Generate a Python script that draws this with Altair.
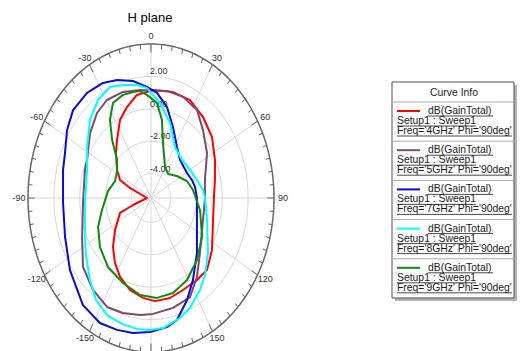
import altair as alt
import numpy as np
import pandas as pd

FONT = "Liberation Sans"

# Radial scale of the polar grid: gain at the centre and on the outer ring (dB)
R_MIN, R_MAX = -5.5, 4.0
ring_values = [-4, -2, 0, 2]
ring_labels = ["-4.00", "-2.00", "0.00", "2.00"]
angle_marks = [-150, -120, -90, -60, -30, 0, 30, 60, 90, 120, 150]

freqs = ["4GHz", "5GHz", "7GHz", "8GHz", "9GHz"]
colors = ["#ff0000", "#7b4a6e", "#0a0ad8", "#00ffff", "#108a10"]

# dB(GainTotal), Phi = 90deg cut. theta in degrees, 0 at the top, clockwise positive.
theta_4ghz = [-174.3, -164, -153.8, -145.2, -135.8, -125.4, -111, -107.3, -90, -69.2,
              -65.1, -56.6, -44.3, -36.2, -26.5, -18.3, -9.7, 1.3, 14.6, 26.5, 38.8,
              51.4, 64.6, 77.3, 90, 105.8, 124.3, 135.8, 144.9, 156.5, 166.6, 177.2]
gain_4ghz = [0.69, 0.40, -0.08, -0.62, -1.29, -2.09, -2.94, -4.05, -5.19, -3.76,
             -2.86, -2.36, -1.62, -1.06, -0.13, 0.41, 0.95, 1.16, 1.25, 1.25, 0.91,
             0.53, -0.03, -0.44, -0.64, -0.52, 0.20, 0.70, 0.68, 0.69, 0.84, 0.87]

theta_5ghz = [-173.3, -163, -153.2, -141.7, -129, -114.3, -93.3, -71.3, -64.6, -49.6,
              -38.5, -29.4, -18.3, -7.2, 10.6, 21.6, 33.2, 43.7, 57.3, 75.1, 90,
              108.7, 131.9, 143.9, 153.8, 165.9, 178.8]
gain_5ghz = [1.77, 1.92, 2.03, 1.73, 1.26, 0.34, -0.24, -0.11, -0.03, 0.68,
             1.20, 1.44, 1.39, 1.22, 1.22, 1.21, 0.99, 0.31, -0.36, -1.19, -1.33,
             -1.26, -0.42, 0.53, 1.31, 1.49, 1.65]

theta_7ghz = [-179.5, -170.5, -162.1, -152.9, -141.5, -125.4, -109.9, -92.6, -75.7, -67.3,
              -57.1, -48, -37.3, -27.6, -19.8, -10.9, -2.6, 4.1, 12.4, 21.2, 32.5,
              43.7, 61, 70.6, 78.8, 90, 110.9, 133.7, 147.3, 156.1, 165.1, 171.2]
gain_7ghz = [2.77, 2.95, 3.05, 3.16, 2.94, 2.18, 1.56, 1.30, 1.51, 1.70,
             2.22, 2.60, 2.65, 2.51, 2.23, 1.85, 1.36, 1.00, 0.25, -0.80, -1.77,
             -2.25, -2.32, -2.15, -2.03, -1.95, -1.70, -0.59, 0.50, 1.38, 2.29, 2.56]

theta_8ghz = [-179.5, -172.4, -163.9, -154.8, -146, -137, -125, -115.2, -93.4, -70.7,
              -57.5, -44.4, -34.1, -24.8, -17.2, -8.8, -2.6, 6.8, 17.6, 30.5, 45.6,
              60.1, 72.6, 83, 90, 107.4, 127.6, 138.7, 146.3, 156.1, 163.1, 173.4]
gain_8ghz = [2.64, 2.65, 2.58, 2.48, 2.09, 1.42, 0.63, 0.14, -0.39, -0.27,
             0.35, 1.24, 1.80, 2.04, 1.80, 1.56, 1.29, 0.40, -0.65, -1.85, -2.15,
             -2.02, -1.78, -1.45, -1.33, -0.97, 0.06, 0.82, 1.32, 1.92, 2.23, 2.58]

theta_9ghz = [-172, -157.6, -142, -127.5, -113.6, -101.1, -82.7, -69.4, -58.5, -48.2,
              -40, -33.4, -26.6, -18.8, -12, -7.3, -2.8, 4.5, 10, 15.3, 20.8, 29.6,
              41.5, 55.9, 69.4, 81.3, 101.1, 121.4, 137.1, 151.2, 163.8, 175.7]
gain_9ghz = [0.54, 0.17, -0.10, -0.53, -1.04, -1.64, -2.15, -2.53, -2.42, -1.99,
             -0.83, 0.26, 1.06, 1.22, 1.19, 1.15, 0.87, 0.38, -0.62, -1.99, -2.67, -3.31,
             -3.52, -3.08, -2.53, -2.22, -1.64, -0.88, -0.28, 0.27, 0.60, 0.68]

thetas = [theta_4ghz, theta_5ghz, theta_7ghz, theta_8ghz, theta_9ghz]
gains = [gain_4ghz, gain_5ghz, gain_7ghz, gain_8ghz, gain_9ghz]

# ---- view geometry (pixels) ----
CANVAS_W, CANVAS_H = 521, 351
W, H = 246, 307            # plot area; the ellipse is cut at the bottom edge
PAD_L, PAD_T = 28, 44
RX, RY = W / 2, 154.0      # semi-axes of the outer ring
Y_LOW = -(H - RY) / RY


def to_x(px):
    """absolute pixel x -> data units of the polar frame"""
    return (px - PAD_L - RX) / RX


def to_y(py):
    """absolute pixel y -> data units of the polar frame"""
    return (PAD_T + RY - py) / RY


sx = alt.Scale(domain=[-1, 1], nice=False, zero=False)
sy = alt.Scale(domain=[Y_LOW, 1], nice=False, zero=False)


def X(field):
    return alt.X(field, type="quantitative", scale=sx, axis=None)


def Y(field):
    return alt.Y(field, type="quantitative", scale=sy, axis=None)


SIN = "sin(datum.theta*PI/180)"
COS = "cos(datum.theta*PI/180)"
RN = f"(datum.gain-({R_MIN}))/({R_MAX - R_MIN})"

# ---- grid ----
ring_rows = []
for v in ring_values + [R_MAX]:
    for a in np.arange(0, 361, 2):
        ring_rows.append({"ring": v, "theta": float(a), "gain": v})
ring_df = pd.DataFrame(ring_rows)

rings = (
    alt.Chart(ring_df[ring_df.ring < R_MAX])
    .transform_calculate(rn=RN)
    .transform_calculate(px=f"datum.rn*{SIN}", py=f"datum.rn*{COS}")
    .mark_line(color="#d6d6d6", strokeWidth=1)
    .encode(x=X("px"), y=Y("py"), detail="ring:N", order="theta:Q")
)

outer = (
    alt.Chart(ring_df[ring_df.ring == R_MAX])
    .transform_calculate(rn=RN)
    .transform_calculate(px=f"datum.rn*{SIN}", py=f"datum.rn*{COS}")
    .mark_line(color="#676767", strokeWidth=1.5)
    .encode(x=X("px"), y=Y("py"), order="theta:Q")
)

spoke_df = pd.DataFrame({"theta": list(range(0, 360, 30))})
spokes = (
    alt.Chart(spoke_df)
    .transform_calculate(x0="0", y0="0", px=SIN, py=COS)
    .mark_rule(color="#d6d6d6", strokeWidth=1)
    .encode(x=X("x0"), y=Y("y0"), x2="px:Q", y2="py:Q")
)

tick_df = pd.DataFrame({"theta": list(range(0, 360, 5))})
tick_df["r_in"] = np.where(tick_df.theta % 30 == 0, 0.945, 0.968)
ticks = (
    alt.Chart(tick_df)
    .transform_calculate(
        x1=f"datum.r_in*{SIN}", y1=f"datum.r_in*{COS}", px=SIN, py=COS
    )
    .mark_rule(color="#676767", strokeWidth=1)
    .encode(x=X("x1"), y=Y("y1"), x2="px:Q", y2="py:Q")
)

angle_df = pd.DataFrame({"theta": angle_marks, "label": [str(a) for a in angle_marks]})
angle_text = (
    alt.Chart(angle_df)
    .transform_calculate(
        px=f"{SIN}*{1 + 9 / RX}", py=f"{COS}*{1 + 8 / RY}"
    )
    .mark_text(font=FONT, fontSize=9, color="#333333", align="center", baseline="middle")
    .encode(x=X("px"), y=Y("py"), text="label:N")
)

rlabel_df = pd.DataFrame({"gain": ring_values, "label": ring_labels, "theta": 0})
radial_text = (
    alt.Chart(rlabel_df)
    .transform_calculate(rn=RN)
    .transform_calculate(px="0", py="datum.rn")
    .mark_text(font=FONT, fontSize=9, color="#333333", align="left", baseline="bottom", dx=-1)
    .encode(x=X("px"), y=Y("py"), text="label:N")
)

# ---- gain curves ----
rows = []
for f, th, g in zip(freqs, thetas, gains):
    for i, (t, v) in enumerate(zip(th, g)):
        rows.append({"freq": f, "theta": t, "gain": v, "order": i})
    rows.append({"freq": f, "theta": th[0], "gain": g[0], "order": len(th)})  # close the loop
curve_df = pd.DataFrame(rows)

color_scale = alt.Scale(domain=freqs, range=colors)
curves = (
    alt.Chart(curve_df)
    .transform_calculate(rn=RN)
    .transform_calculate(px=f"datum.rn*{SIN}", py=f"datum.rn*{COS}")
    .mark_line(strokeWidth=2, strokeJoin="round")
    .encode(
        x=X("px"),
        y=Y("py"),
        color=alt.Color("freq:N", scale=color_scale, legend=None),
        order="order:Q",
    )
)

# ---- title ----
title_df = pd.DataFrame({"px": [to_x(150)], "py": [to_y(18)], "label": ["H plane"]})
title = (
    alt.Chart(title_df)
    .mark_text(font=FONT, fontSize=13, color="#000000", align="center", baseline="middle")
    .encode(x=X("px"), y=Y("py"), text="label:N")
)

# ---- "Curve Info" box ----
BOX_L, BOX_R, BOX_T, BOX_B = 392, 514, 82, 298
ROW0, ROW_STEP = 111, 39.2
LFS = 10.4

box_df = pd.DataFrame({
    "x1": [to_x(BOX_L + 3), to_x(BOX_L)],
    "x2": [to_x(BOX_R + 3), to_x(BOX_R)],
    "y1": [to_y(BOX_T + 3), to_y(BOX_T)],
    "y2": [to_y(BOX_B + 3), to_y(BOX_B)],
    "part": ["shadow", "frame"],
})
shadow = (
    alt.Chart(box_df[box_df.part == "shadow"])
    .mark_rect(fill="#b4b4b4")
    .encode(x=X("x1"), x2="x2:Q", y=Y("y1"), y2="y2:Q")
)
frame = (
    alt.Chart(box_df[box_df.part == "frame"])
    .mark_rect(fill="#ffffff", stroke="#505050", strokeWidth=1)
    .encode(x=X("x1"), x2="x2:Q", y=Y("y1"), y2="y2:Q")
)

header_df = pd.DataFrame({"px": [to_x(454)], "py": [to_y(93)], "label": ["Curve Info"]})
header = (
    alt.Chart(header_df)
    .mark_text(font=FONT, fontSize=LFS, color="#1a1a1a", align="center", baseline="middle")
    .encode(x=X("px"), y=Y("py"), text="label:N")
)

k = np.arange(len(freqs))
sep_df = pd.DataFrame({
    "x1": to_x(BOX_L + 1), "x2": to_x(BOX_R - 1),
    "py": to_y(102 + ROW_STEP * k),
})
separators = (
    alt.Chart(sep_df)
    .mark_rule(color="#a8a8a8", strokeWidth=1)
    .encode(x=X("x1"), x2="x2:Q", y=Y("py"))
)

row_y = ROW0 + ROW_STEP * k
entry_df = pd.DataFrame({
    "freq": freqs,
    "line_y": to_y(row_y),
    "sx1": to_x(397), "sx2": to_x(420),
})
samples = (
    alt.Chart(entry_df)
    .mark_rule(strokeWidth=2)
    .encode(
        x=X("sx1"), x2="sx2:Q", y=Y("line_y"),
        color=alt.Color("freq:N", scale=color_scale, legend=None),
    )
)

# three underlined text lines per entry: (text, left px, width px, row offset px)
text_rows = []
for f, yy in zip(freqs, row_y):
    lines = [
        ("dB(GainTotal)", 428, 65, 0),
        ("Setup1 : Sweep1", 397, 79, 10),
        (f"Freq='{f}' Phi='90deg'", 397, 115, 20),
    ]
    for txt, left, width, off in lines:
        text_rows.append({
            "label": txt,
            "px": to_x(left),
            "py": to_y(yy + off),
            "ux1": to_x(left),
            "ux2": to_x(left + width),
            "uy": to_y(yy + off + 5),
        })
text_df = pd.DataFrame(text_rows)

entry_text = (
    alt.Chart(text_df)
    .mark_text(font=FONT, fontSize=LFS, color="#1a1a1a", align="left", baseline="middle")
    .encode(x=X("px"), y=Y("py"), text="label:N")
)
underlines = (
    alt.Chart(text_df)
    .mark_rule(color="#1a1a1a", strokeWidth=0.8)
    .encode(x=X("ux1"), x2="ux2:Q", y=Y("uy"))
)

chart = (
    alt.layer(
        rings, spokes, outer, ticks, angle_text, radial_text, curves, title,
        shadow, frame, header, separators, samples, entry_text, underlines,
    )
    .properties(
        width=W,
        height=H,
        autosize=alt.AutoSizeParams(type="none"),
        padding={"left": PAD_L, "top": PAD_T, "right": CANVAS_W - PAD_L - W, "bottom": 0},
        background="#ffffff",
    )
    .configure_view(strokeWidth=0)
)

chart.save("out.html", embed_options={"renderer": "svg", "actions": False})
